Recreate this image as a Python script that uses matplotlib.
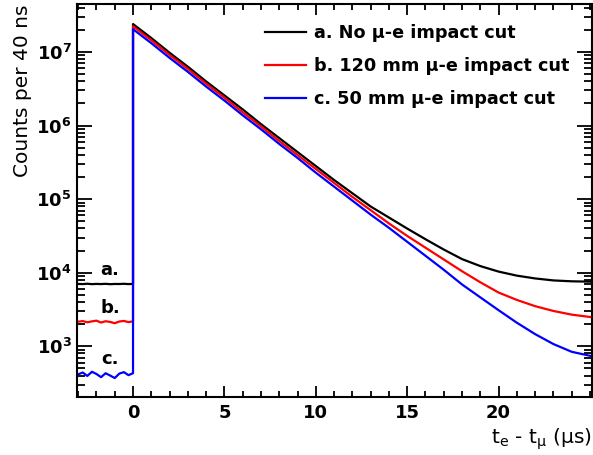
import matplotlib
matplotlib.use("Agg")
import matplotlib.pyplot as plt
import numpy as np
from matplotlib.ticker import LogLocator, FixedLocator, MultipleLocator

plt.rcParams["font.family"] = ["DejaVu Sans"]
plt.rcParams["mathtext.fontset"] = "custom"
plt.rcParams["mathtext.rm"] = "DejaVu Sans"
plt.rcParams["mathtext.it"] = "DejaVu Sans"
plt.rcParams["mathtext.bf"] = "DejaVu Sans:bold"
plt.rcParams["mathtext.default"] = "regular"

# flat region before t = 0 (counts per bin)
t_pre = [-3.06, -2.75, -2.5, -2.25, -2.0, -1.75, -1.5, -1.25, -1.0, -0.75, -0.5, -0.25, 0.0]
black_pre = [7050, 7000, 7080, 6990, 7040, 7010, 7060, 6980, 7030, 7020, 7070, 7000, 7040]
red_pre = [2150, 2200, 2120, 2180, 2230, 2100, 2190, 2140, 2060, 2170, 2210, 2130, 2180]
blue_pre = [410, 440, 395, 450, 420, 380, 430, 400, 370, 425, 445, 405, 430]

# decay region, log10(counts)
t_post = [0, 1, 2, 3, 4, 5, 6, 7, 8, 9, 10, 11, 12, 13, 14, 15, 16, 17, 18, 19,
          20, 21, 22, 23, 24, 25.1]
black_log = [7.38, 7.19, 6.99, 6.80, 6.60, 6.41, 6.22, 6.02, 5.83, 5.64, 5.45, 5.26,
             5.08, 4.90, 4.75, 4.60, 4.455, 4.315, 4.185, 4.09, 4.015, 3.96, 3.922,
             3.895, 3.883, 3.878]
red_log = [7.35, 7.16, 6.96, 6.77, 6.57, 6.38, 6.18, 5.99, 5.79, 5.60, 5.41, 5.22,
           5.03, 4.85, 4.67, 4.50, 4.34, 4.18, 4.02, 3.87, 3.73, 3.63, 3.545, 3.48,
           3.43, 3.395]
blue_log = [7.31, 7.12, 6.92, 6.73, 6.53, 6.34, 6.14, 5.95, 5.75, 5.56, 5.36, 5.17,
            4.98, 4.79, 4.61, 4.42, 4.23, 4.04, 3.84, 3.665, 3.49, 3.32, 3.165, 3.03,
            2.925, 2.865]

labels = ["a. No \u03bc-e impact cut",
          "b. 120 mm \u03bc-e impact cut",
          "c. 50 mm \u03bc-e impact cut"]
colors = ["black", "red", "blue"]

fig = plt.figure(figsize=(5.93, 4.55), dpi=100)
ax = fig.add_axes([0.130, 0.127, 0.868, 0.864])

for pre, post, col, lab in zip([black_pre, red_pre, blue_pre],
                               [black_log, red_log, blue_log], colors, labels):
    t = list(t_pre) + list(t_post)
    y = list(pre) + [10 ** v for v in post]
    ax.plot(t, y, color=col, lw=1.6, label=lab)

ax.set_yscale("log")
ax.set_xlim(-3.06, 25.1)
ax.set_ylim(203, 4.48e7)

ax.xaxis.set_major_locator(FixedLocator([0, 5, 10, 15, 20]))
ax.xaxis.set_minor_locator(MultipleLocator(1))
ax.yaxis.set_major_locator(LogLocator(base=10))
ax.yaxis.set_minor_locator(LogLocator(base=10, subs=np.arange(2, 10)))
ax.yaxis.set_major_formatter(lambda v, pos: r"$\mathbf{10^{%d}}$" % round(np.log10(v)))

ax.tick_params(which="both", direction="in", top=True, right=True, width=1.3,
               labelsize=13)
ax.tick_params(axis="x", which="major", length=8, pad=5)
ax.tick_params(axis="x", which="minor", length=4)
ax.tick_params(axis="y", which="major", length=11, pad=4)
ax.tick_params(axis="y", which="minor", length=6)
for lbl in ax.get_xticklabels():
    lbl.set_fontweight("bold")
for s in ax.spines.values():
    s.set_linewidth(1.5)

ax.set_ylabel("Counts per 40 ns", fontsize=14.5, loc="top", labelpad=3)
ax.set_xlabel(r"$t_e$ - $t_\mu$ ($\mu$s)", fontsize=14.5, loc="right", labelpad=3)

ax.text(-1.26, 1.1e4, "a.", fontsize=13, fontweight="bold", ha="center", va="center")
ax.text(-1.26, 3350, "b.", fontsize=13, fontweight="bold", ha="center", va="center")
ax.text(-1.26, 665, "c.", fontsize=13, fontweight="bold", ha="center", va="center")

ax.legend(loc="upper left", bbox_to_anchor=(0.352, 0.968), frameon=False,
          prop={"size": 12.7, "weight": "bold"}, handlelength=2.3,
          handletextpad=0.45, labelspacing=0.85, borderaxespad=0)

fig.savefig("out.png", dpi=100)
